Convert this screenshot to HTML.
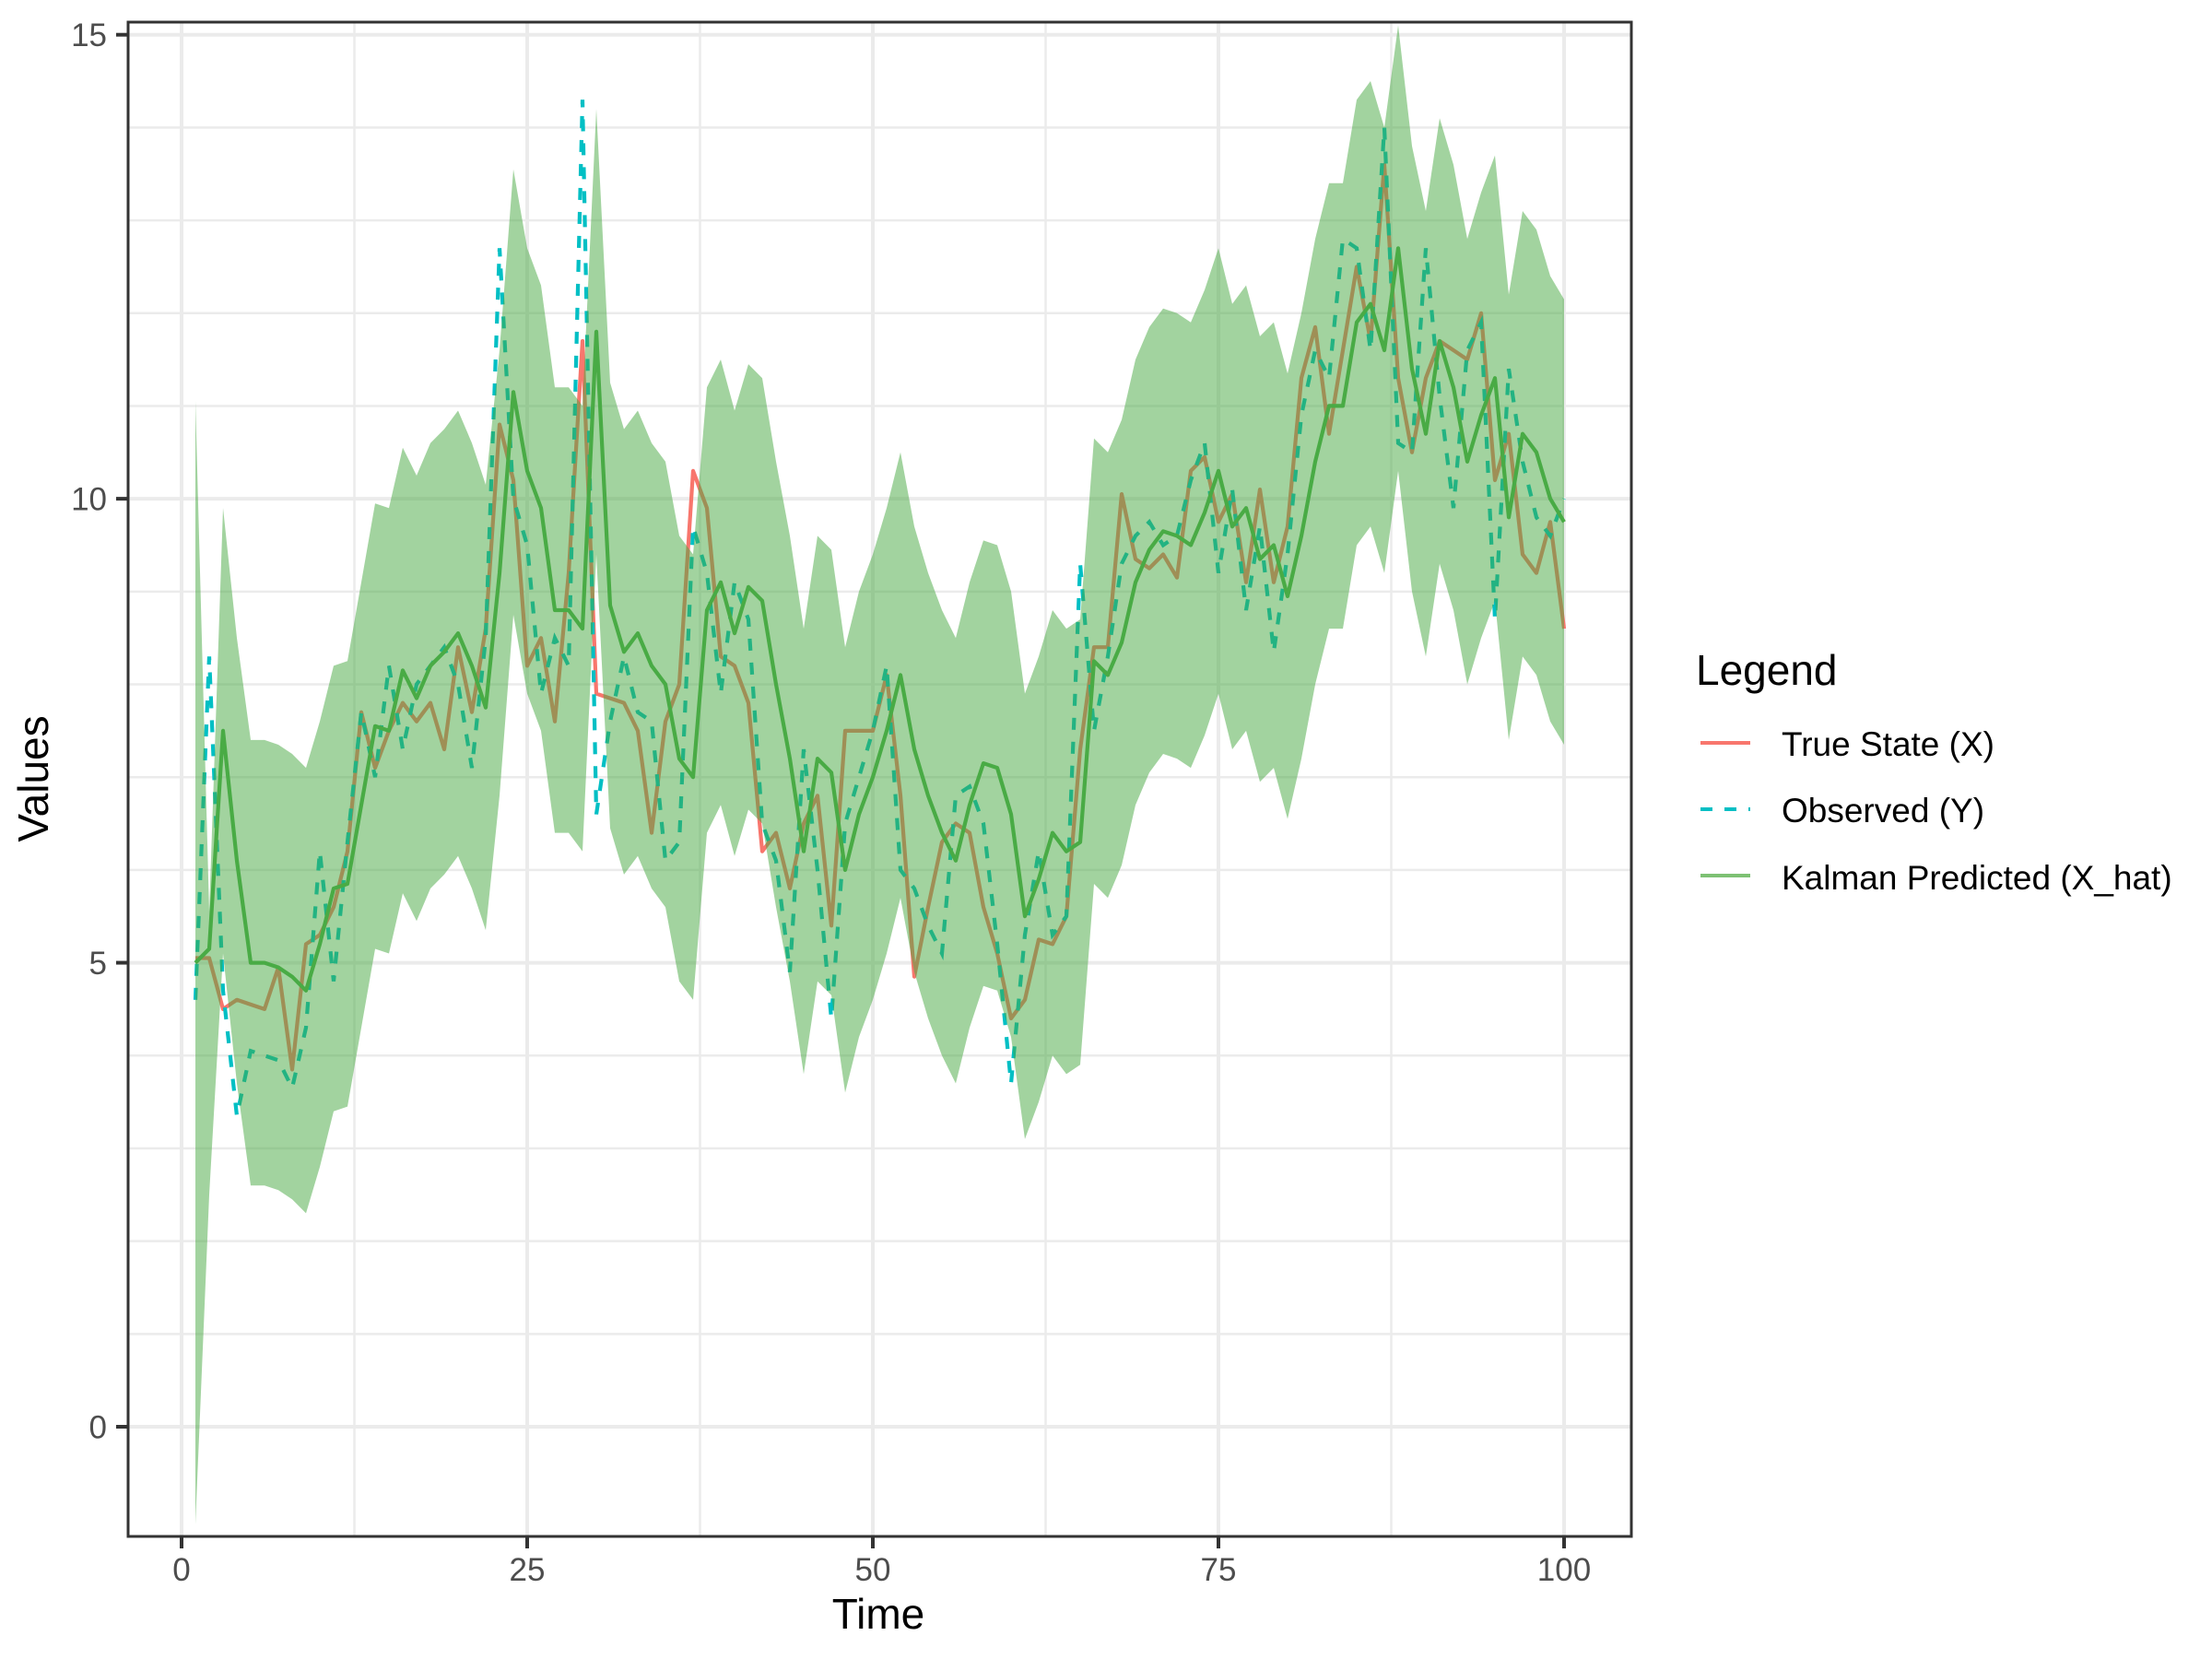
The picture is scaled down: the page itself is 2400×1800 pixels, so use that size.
<!DOCTYPE html>
<html><head><meta charset="utf-8"><style>
html,body{margin:0;padding:0;background:#fff;}
svg{display:block;font-family:"Liberation Sans",Arial,sans-serif;}
</style></head><body>
<svg id="chart" width="2400" height="1800" viewBox="0 0 2400 1800">
<rect x="0" y="0" width="2400" height="1800" fill="#fff"/>
<g id="grid"></g>
<g id="lines"></g>
<g id="ribbon"></g>
<rect x="139" y="24" width="1631" height="1643" fill="none" stroke="#333" stroke-width="3"/>
<g id="axes"></g>
<text x="953" y="1767" font-size="46" text-anchor="middle" fill="#000">Time</text>
<text x="52" y="845" font-size="46" text-anchor="middle" fill="#000" transform="rotate(-90 52 845)">Values</text>
<g>
<text x="1840" y="743" font-size="46" fill="#000">Legend</text>
<g>
<line x1="1845" y1="806" x2="1899" y2="806" stroke="#F8766D" stroke-width="4"/>
<text x="1933" y="820" font-size="37" fill="#000">True State (X)</text></g>
<g>
<line x1="1845" y1="878" x2="1899" y2="878" stroke="#00BFC4" stroke-width="4" stroke-dasharray="13 13"/>
<text x="1933" y="892" font-size="37" fill="#000">Observed (Y)</text></g>
<g>
<line x1="1845" y1="950" x2="1899" y2="950" stroke="#7DC173" stroke-width="4"/>
<text x="1933" y="965" font-size="37" fill="#000">Kalman Predicted (X_hat)</text></g>
</g>
</svg>
<script>
const trueState=[5.05,5.05,4.5,4.6,4.55,4.5,4.95,3.85,5.2,5.3,5.6,6.2,7.7,7.1,7.5,7.8,7.6,7.8,7.3,8.4,7.7,8.6,10.8,10.2,8.2,8.5,7.6,9.2,11.7,7.9,7.85,7.8,7.5,6.4,7.6,8.0,10.3,9.9,8.3,8.2,7.8,6.2,6.4,5.8,6.5,6.8,5.4,7.5,7.5,7.5,8.1,6.8,4.85,5.6,6.3,6.5,6.4,5.6,5.1,4.4,4.6,5.25,5.2,5.5,7.3,8.4,8.4,10.05,9.35,9.25,9.4,9.15,10.3,10.45,9.75,10.05,9.1,10.1,9.1,9.7,11.3,11.85,10.7,11.6,12.5,11.7,13.6,11.3,10.5,11.3,11.7,11.6,11.5,12.0,10.2,10.7,9.4,9.2,9.75,8.6];
const observed=[4.6,8.3,4.7,3.35,4.05,4.0,3.95,3.65,4.3,6.2,4.8,6.3,7.7,7.0,8.2,7.3,8.0,8.2,8.4,8.0,7.1,8.5,12.7,10.0,9.5,7.9,8.5,8.2,14.3,6.6,7.6,8.3,7.7,7.6,6.1,6.3,9.7,9.2,7.9,9.1,8.7,6.5,6.1,4.9,7.3,6.0,4.4,6.5,7.0,7.5,8.2,6.0,5.8,5.4,5.1,6.8,6.9,6.5,5.2,3.7,5.3,6.2,5.3,5.5,9.3,7.5,8.3,9.3,9.6,9.75,9.5,9.6,10.2,10.6,9.2,10.1,8.8,9.7,8.35,9.4,10.9,11.6,11.3,12.8,12.7,11.6,14.0,10.6,10.5,12.7,11.1,9.9,11.6,11.9,8.7,11.4,10.4,9.8,9.6,10.0];
const kalman=[5.0,5.15,7.5,6.1,5.0,5.0,4.95,4.85,4.7,5.2,5.8,5.85,6.7,7.55,7.5,8.15,7.85,8.2,8.35,8.55,8.2,7.75,9.2,11.15,10.3,9.9,8.8,8.8,8.6,11.8,8.85,8.35,8.55,8.2,8.0,7.2,7.0,8.8,9.1,8.55,9.05,8.9,8.0,7.2,6.2,7.2,7.05,6.0,6.6,7.0,7.5,8.1,7.3,6.8,6.4,6.1,6.7,7.15,7.1,6.6,5.5,5.9,6.4,6.2,6.3,8.25,8.1,8.45,9.1,9.45,9.65,9.6,9.5,9.85,10.3,9.7,9.9,9.35,9.5,8.95,9.6,10.4,11.0,11.0,11.9,12.1,11.6,12.7,11.4,10.7,11.7,11.2,10.4,10.9,11.3,9.8,10.7,10.5,10.0,9.75];
const seUpper=[6.05,0.4,2.4,2.4,2.4,2.4,2.4,2.4,2.4,2.4,2.4,2.4,2.4,2.4,2.4,2.4,2.4,2.4,2.4,2.4,2.4,2.4,2.4,2.4,2.4,2.4,2.4,2.4,2.4,2.4,2.4,2.4,2.4,2.4,2.4,2.4,2.4,2.4,2.4,2.4,2.4,2.4,2.4,2.4,2.4,2.4,2.4,2.4,2.4,2.4,2.4,2.4,2.4,2.4,2.4,2.4,2.4,2.4,2.4,2.4,2.4,2.4,2.4,2.4,2.4,2.4,2.4,2.4,2.4,2.4,2.4,2.4,2.4,2.4,2.4,2.4,2.4,2.4,2.4,2.4,2.4,2.4,2.4,2.4,2.4,2.4,2.4,2.4,2.4,2.4,2.4,2.4,2.4,2.4,2.4,2.4,2.4,2.4,2.4,2.4];
const seLower=[6.05,2.65,2.4,2.4,2.4,2.4,2.4,2.4,2.4,2.4,2.4,2.4,2.4,2.4,2.4,2.4,2.4,2.4,2.4,2.4,2.4,2.4,2.4,2.4,2.4,2.4,2.4,2.4,2.4,2.4,2.4,2.4,2.4,2.4,2.4,2.4,2.4,2.4,2.4,2.4,2.4,2.4,2.4,2.4,2.4,2.4,2.4,2.4,2.4,2.4,2.4,2.4,2.4,2.4,2.4,2.4,2.4,2.4,2.4,2.4,2.4,2.4,2.4,2.4,2.4,2.4,2.4,2.4,2.4,2.4,2.4,2.4,2.4,2.4,2.4,2.4,2.4,2.4,2.4,2.4,2.4,2.4,2.4,2.4,2.4,2.4,2.4,2.4,2.4,2.4,2.4,2.4,2.4,2.4,2.4,2.4,2.4,2.4,2.4,2.4];
const xTicks=[0,25,50,75,100];
const yTicks=[0,5,10,15];
const xMinor=[12.5,37.5,62.5,87.5];
const yMinor=[1,2,3,4,6,7,8,9,11,12,13,14];

const NS='http://www.w3.org/2000/svg';
const X0=197,X1=1697,Y0=1548,Y15=37.7;
function sx(v){return X0+(X1-X0)*v/100;}
function sy(v){return Y0-(Y0-Y15)*v/15;}
function mk(tag,attrs,parent){const e=document.createElementNS(NS,tag);for(const k in attrs)e.setAttribute(k,attrs[k]);parent.appendChild(e);return e;}
const grid=document.getElementById('grid');
for(const v of yMinor){const l=mk('line',{x1:139,x2:1770,y1:sy(v),y2:sy(v),stroke:'#EBEBEB','stroke-width':2.5},grid);

}
for(const v of xMinor){const l=mk('line',{x1:sx(v),x2:sx(v),y1:24,y2:1667,stroke:'#EBEBEB','stroke-width':2.5},grid);

}
for(const v of yTicks){const l=mk('line',{x1:139,x2:1770,y1:sy(v),y2:sy(v),stroke:'#EBEBEB','stroke-width':4},grid);

}
for(const v of xTicks){const l=mk('line',{x1:sx(v),x2:sx(v),y1:24,y2:1667,stroke:'#EBEBEB','stroke-width':4},grid);

}
const axes=document.getElementById('axes');
for(const v of xTicks){
const t=mk('line',{x1:sx(v),x2:sx(v),y1:1667,y2:1680,stroke:'#333','stroke-width':4},axes);


const tx=mk('text',{x:sx(v),y:1715,'font-size':35,'text-anchor':'middle',fill:'#4D4D4D'},axes);tx.textContent=v;

}
for(const v of yTicks){
const t=mk('line',{x1:126,x2:139,y1:sy(v),y2:sy(v),stroke:'#333','stroke-width':4},axes);


const tx=mk('text',{x:116,y:sy(v)+12.5,'font-size':35,'text-anchor':'end',fill:'#4D4D4D'},axes);tx.textContent=v;

}
function pts(arr){return arr.map((v,i)=>sx(i+1).toFixed(1)+','+sy(v).toFixed(1)).join(' ');}
const lines=document.getElementById('lines');
const lt=mk('polyline',{points:pts(trueState),fill:'none',stroke:'#F8766D','stroke-width':4.2,'stroke-linejoin':'round'},lines);


const lo=mk('polyline',{points:pts(observed),fill:'none',stroke:'#00BFC4','stroke-width':4.2,'stroke-dasharray':'13 13'},lines);


const lk=mk('polyline',{points:pts(kalman),fill:'none',stroke:'#4DAF4A','stroke-width':4.2,'stroke-linejoin':'round'},lines);


const up=kalman.map((v,i)=>v+seUpper[i]);
const dn=kalman.map((v,i)=>v-seLower[i]);
let p=up.map((v,i)=>sx(i+1).toFixed(1)+','+sy(v).toFixed(1));
for(let i=dn.length-1;i>=0;i--)p.push(sx(i+1).toFixed(1)+','+sy(dn[i]).toFixed(1));
const rb=mk('polygon',{points:p.join(' '),fill:'#46a840','fill-opacity':0.5},document.getElementById('ribbon'));


</script>
</body></html>
